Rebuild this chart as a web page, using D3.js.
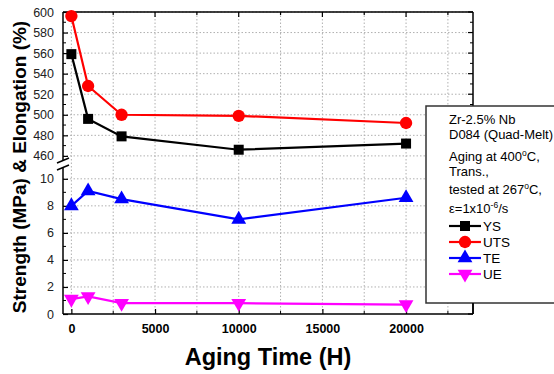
<!DOCTYPE html>
<html>
<head>
<meta charset="utf-8">
<script src="https://cdn.jsdelivr.net/npm/d3@7"></script>
<style>
body { margin: 0; background: #fff; }
svg { font-family: "Liberation Sans", Arial, sans-serif; }
</style>
</head>
<body>
<div id="chart"></div>
<script>
// aging time (h)
var hours = [0, 1000, 3000, 10000, 20000];
// strength, MPa
var ys  = [559, 496, 479, 466, 472];
var uts = [596, 528, 500, 499, 492];
// elongation, %
var te  = [8.0, 9.1, 8.5, 7.0, 8.6];
var ue  = [1.1, 1.3, 0.8, 0.8, 0.7];

var xTicks = [0, 5000, 10000, 15000, 20000];
var upTicks = [460, 480, 500, 520, 540, 560, 580, 600];
var loTicks = [0, 2, 4, 6, 8, 10];

var W = 554, H = 374;
var pLeft = 63, pRight = 473, pTop = 12, pBottom = 314;

var svg = d3.select("#chart").append("svg")
    .attr("width", W).attr("height", H);

var x = d3.scaleLinear().domain([-500, 24000]).range([pLeft, pRight]);
var yUp = d3.scaleLinear().domain([456, 600]).range([160, pTop]);
var yLo = d3.scaleLinear().domain([0, 10.8]).range([pBottom, 168]);

// grid
var grid = svg.append("g")
    .attr("stroke", "#b0b0b0")
    .attr("stroke-width", 1)
    .attr("stroke-dasharray", "1.5,2");

d3.range(0, 24000, 2500).forEach(function(v) {
  grid.append("line").attr("x1", x(v)).attr("x2", x(v)).attr("y1", pTop).attr("y2", pBottom);
});
upTicks.forEach(function(v) {
  grid.append("line").attr("x1", pLeft).attr("x2", pRight).attr("y1", yUp(v)).attr("y2", yUp(v));
});
loTicks.slice(1).forEach(function(v) {
  grid.append("line").attr("x1", pLeft).attr("x2", pRight).attr("y1", yLo(v)).attr("y2", yLo(v));
});

// frame
var frame = svg.append("g").attr("stroke", "#000").attr("stroke-width", 1.5).attr("fill", "none");
frame.append("line").attr("x1", pLeft).attr("x2", pRight).attr("y1", pTop).attr("y2", pTop);
frame.append("line").attr("x1", pLeft).attr("x2", pRight).attr("y1", pBottom).attr("y2", pBottom);
frame.append("line").attr("x1", pLeft).attr("x2", pLeft).attr("y1", pTop).attr("y2", 160);
frame.append("line").attr("x1", pLeft).attr("x2", pLeft).attr("y1", 168).attr("y2", pBottom);
frame.append("line").attr("x1", pRight).attr("x2", pRight).attr("y1", pTop).attr("y2", pBottom);
// break marks
frame.append("line").attr("x1", pLeft - 6).attr("x2", pLeft + 6).attr("y1", 163).attr("y2", 158);
frame.append("line").attr("x1", pLeft - 6).attr("x2", pLeft + 6).attr("y1", 170).attr("y2", 165);

// y ticks: built with d3 axes, ticks pointing inward
function yAxis(scale, ticks, minor) {
  var g = svg.append("g").attr("transform", "translate(" + pLeft + ",0)");
  g.call(d3.axisLeft(scale).tickValues(ticks).tickSize(-5).tickPadding(9).tickFormat(d3.format("d")));
  g.select(".domain").remove();
  g.selectAll("line").attr("stroke-width", 1.2);
  g.selectAll("text").attr("font-size", 12.5).attr("fill", "#222")
      .attr("font-family", "Liberation Sans, Arial, sans-serif");
  minor.forEach(function(v) {
    g.append("line").attr("x1", 0).attr("x2", 3).attr("y1", scale(v)).attr("y2", scale(v))
      .attr("stroke", "#000").attr("stroke-width", 1);
  });
  // right side ticks
  ticks.forEach(function(v) {
    svg.append("line").attr("x1", pRight).attr("x2", pRight - 5).attr("y1", scale(v)).attr("y2", scale(v))
      .attr("stroke", "#000").attr("stroke-width", 1.2);
  });
  minor.forEach(function(v) {
    svg.append("line").attr("x1", pRight).attr("x2", pRight - 3).attr("y1", scale(v)).attr("y2", scale(v))
      .attr("stroke", "#000").attr("stroke-width", 1);
  });
}
yAxis(yUp, upTicks, [470, 490, 510, 530, 550, 570, 590]);
yAxis(yLo, loTicks, [1, 3, 5, 7, 9]);

// x ticks
var minorX = [2500, 7500, 12500, 17500, 22500];
var gx = svg.append("g").attr("transform", "translate(0," + pBottom + ")");
gx.call(d3.axisBottom(x).tickValues(xTicks).tickSize(-5).tickPadding(10).tickFormat(d3.format("d")));
gx.select(".domain").remove();
gx.selectAll("line").attr("stroke-width", 1.2);
gx.selectAll("text").attr("font-size", 12.5).attr("font-weight", "bold").attr("fill", "#000")
    .attr("font-family", "Liberation Sans, Arial, sans-serif");
minorX.forEach(function(v) {
  gx.append("line").attr("x1", x(v)).attr("x2", x(v)).attr("y1", 0).attr("y2", -3).attr("stroke", "#000");
});
xTicks.concat(minorX).forEach(function(v) {
  svg.append("line").attr("x1", x(v)).attr("x2", x(v)).attr("y1", pTop).attr("y2", pTop + (v % 5000 ? 3 : 5))
    .attr("stroke", "#000").attr("stroke-width", 1.2);
});

// series
var series = [
  { name: "YS", vals: ys, scale: yUp, color: "#000000", sym: d3.symbolSquare, size: 100, rot: 0 },
  { name: "UTS", vals: uts, scale: yUp, color: "#ff0000", sym: d3.symbolCircle, size: 120, rot: 0 },
  { name: "TE", vals: te, scale: yLo, color: "#0000ff", sym: d3.symbolTriangle, size: 95, rot: 0 },
  { name: "UE", vals: ue, scale: yLo, color: "#ff00ff", sym: d3.symbolTriangle, size: 95, rot: 180 }
];

series.forEach(function(s) {
  var line = d3.line()
      .x(function(d, i) { return x(hours[i]); })
      .y(function(d) { return s.scale(d); });
  svg.append("path").datum(s.vals)
      .attr("d", line)
      .attr("fill", "none")
      .attr("stroke", s.color)
      .attr("stroke-width", 2.2);
  svg.selectAll(null).data(s.vals).enter().append("path")
      .attr("d", d3.symbol().type(s.sym).size(s.size))
      .attr("transform", function(d, i) {
        return "translate(" + x(hours[i]) + "," + s.scale(d) + ") rotate(" + s.rot + ")";
      })
      .attr("fill", s.color);
});

// legend box
var lg = svg.append("g");
lg.append("rect").attr("x", 426).attr("y", 106).attr("width", 140).attr("height", 197)
    .attr("fill", "#fff").attr("stroke", "#333").attr("stroke-width", 1.5);

var lx = 449;
function legText(yy) {
  return lg.append("text").attr("x", lx).attr("y", yy).attr("font-size", 13).attr("fill", "#000");
}
legText(124).text("Zr-2.5% Nb");
legText(139).text("D084 (Quad-Melt)");
var t1 = legText(161); t1.append("tspan").text("Aging at 400");
t1.append("tspan").attr("dy", -5).attr("font-size", 8.5).text("o");
t1.append("tspan").attr("dy", 5).text("C,");
legText(176).text("Trans.,");
var t2 = legText(194); t2.append("tspan").text("tested at 267");
t2.append("tspan").attr("dy", -5).attr("font-size", 8.5).text("o");
t2.append("tspan").attr("dy", 5).text("C,");
var t3 = legText(213); t3.append("tspan").text("\u03b5=1x10");
t3.append("tspan").attr("dy", -5).attr("font-size", 8.5).text("-6");
t3.append("tspan").attr("dy", 5).text("/s");

series.forEach(function(s, i) {
  var yy = 226 + i * 16;
  lg.append("line").attr("x1", lx).attr("x2", 481).attr("y1", yy).attr("y2", yy)
      .attr("stroke", s.color).attr("stroke-width", 2.2);
  lg.append("path").attr("d", d3.symbol().type(s.sym).size(s.size))
      .attr("transform", "translate(" + 465 + "," + yy + ") rotate(" + s.rot + ")")
      .attr("fill", s.color);
  lg.append("text").attr("x", 483).attr("y", yy + 5).attr("font-size", 13.5).text(s.name);
});
// right axis stub below legend
svg.append("line").attr("x1", pRight).attr("x2", pRight).attr("y1", 303).attr("y2", pBottom)
    .attr("stroke", "#000").attr("stroke-width", 1.5);

// titles
svg.append("text")
    .attr("transform", "translate(26," + 167 + ") rotate(-90)")
    .attr("text-anchor", "middle")
    .attr("font-size", 19).attr("font-weight", "bold")
    .text("Strength (MPa) & Elongation (%)");
svg.append("text")
    .attr("x", 268).attr("y", 365)
    .attr("text-anchor", "middle")
    .attr("font-size", 23.5).attr("font-weight", "bold")
    .text("Aging Time (H)");
</script>
</body>
</html>
